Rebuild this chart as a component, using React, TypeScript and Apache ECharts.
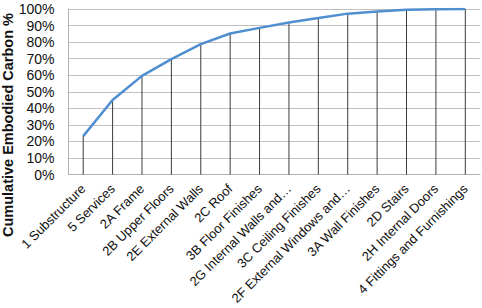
import React, { useEffect, useRef } from "react";
import * as echarts from "echarts";

const categories = [
  "1 Substructure",
  "5 Services",
  "2A Frame",
  "2B Upper Floors",
  "2E External Walls",
  "2C Roof",
  "3B Floor Finishes",
  "2G Internal Walls and…",
  "3C Ceiling Finishes",
  "2F External Windows and…",
  "3A Wall Finishes",
  "2D Stairs",
  "2H Internal Doors",
  "4 Fittings and Furnishings",
];

const cumulativePct = [23.2, 45.0, 59.6, 69.7, 78.8, 85.2, 88.6, 91.9, 94.6, 97.2, 98.5, 99.6, 99.9, 100];

const yTicks = { min: 0, max: 100, interval: 10 };
const yTitle = "Cumulative Embodied Carbon %";

const FONT = "'Liberation Sans', Arial, sans-serif";

export default function App() {
  const ref = useRef<HTMLDivElement>(null);
  useEffect(() => {
    document.body.style.margin = "0";
    document.body.style.overflow = "hidden";
    if (!ref.current) return;
    const chart = echarts.init(ref.current, undefined, { renderer: "svg" });
    chart.setOption({
      animation: false,
      backgroundColor: "#ffffff",
      textStyle: { fontFamily: FONT },
      grid: {
        left: 68.5,
        right: 2,
        top: 9,
        bottom: 133.5,
        containLabel: false,
        outerBoundsMode: "none",
      },
      graphic: [
        {
          type: "text",
          x: 8,
          y: 125,
          rotation: Math.PI / 2,
          style: {
            text: yTitle,
            fill: "#111",
            font: `bold 14.5px ${FONT}`,
            align: "center",
            verticalAlign: "middle",
          },
        },
      ],
      xAxis: {
        type: "category",
        data: categories,
        boundaryGap: true,
        axisLine: { show: true, lineStyle: { color: "#b3b3b3", width: 1 } },
        axisTick: { show: false },
        axisLabel: {
          interval: 0,
          rotate: 45,
          margin: 12,
          color: "#111",
          fontSize: 13,
          fontFamily: FONT,
        },
        splitLine: { show: false },
      },
      yAxis: {
        type: "value",
        min: yTicks.min,
        max: yTicks.max,
        interval: yTicks.interval,
        axisLine: { show: true, lineStyle: { color: "#b3b3b3", width: 1 } },
        axisTick: { show: false },
        axisLabel: {
          formatter: "{value}%",
          fontSize: 14,
          color: "#111",
          margin: 14,
          fontFamily: FONT,
        },
        splitLine: { show: true, lineStyle: { color: "#c0c0c0", width: 1 } },
      },
      series: [
        {
          type: "bar",
          data: cumulativePct,
          barWidth: 1,
          itemStyle: { color: "#3a3a3a" },
          silent: true,
          z: 2,
        },
        {
          type: "line",
          data: cumulativePct,
          showSymbol: false,
          symbol: "none",
          lineStyle: { color: "#4f8fd0", width: 2.5 },
          z: 3,
        },
      ],
    });
    return () => chart.dispose();
  }, []);
  return <div ref={ref} style={{ width: 482, height: 308 }} />;
}
